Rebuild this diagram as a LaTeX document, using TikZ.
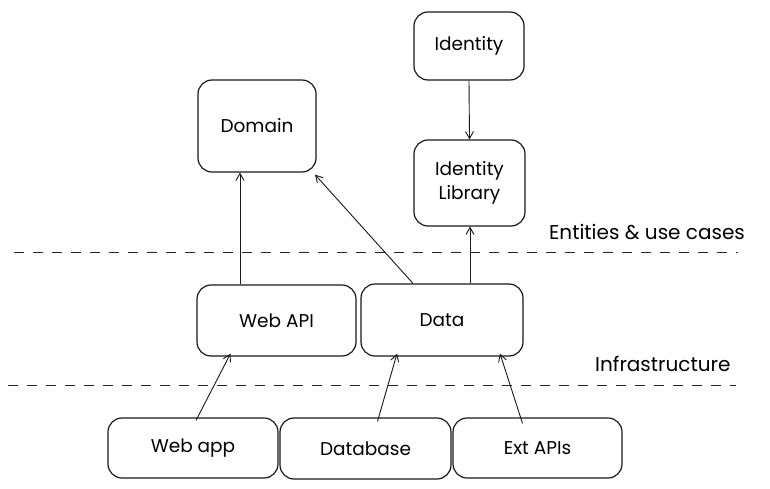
\documentclass[tikz,border=0pt]{standalone}
\usepackage{fontspec}
\setmainfont{Poppins}
\usetikzlibrary{arrows.meta}
\begin{document}
\begin{tikzpicture}[x=1pt,y=-1pt,
  box/.style={draw=black!90, line width=1.2pt, rounded corners=14pt, fill=white, font=\fontsize{18.5}{24}\selectfont, align=center, inner sep=0pt},
  conn/.style={draw=black!90, line width=0.9pt, -{Straight Barb[length=7pt,width=8pt]}},
  sep/.style={draw=black!85, line width=1pt, dash pattern=on 10pt off 9pt},
  lbl/.style={font=\fontsize{20}{24}\selectfont, inner sep=0pt}]
\useasboundingbox (0,0) rectangle (770,489);
\fill[white] (0,0) rectangle (770,489);

\node[box, minimum width=118pt, minimum height=92pt] (domain) at (257,126) {Domain};
\node[box, minimum width=110pt, minimum height=68pt] (identity) at (469,46) {Identity};
\node[box, minimum width=111pt, minimum height=86pt] (idlib) at (469.5,183) {Identity\\Library};
\node[box, minimum width=159pt, minimum height=71pt] (webapi) at (276.5,320.5) {Web API};
\node[box, minimum width=162pt, minimum height=72pt] (data) at (442,320) {Data};
\node[box, minimum width=170pt, minimum height=60pt] (webapp) at (193,448) {Web app};
\node[box, minimum width=171pt, minimum height=61pt] (database) at (365.5,448.5) {Database};
\node[box, minimum width=169pt, minimum height=60pt] (extapis) at (537.5,448) {Ext APIs};

\coordinate (l1a) at (14,252);
\coordinate (l1b) at (738,252);
\coordinate (l2a) at (8,385);
\coordinate (l2b) at (736,385);
\draw[sep] (l1a) -- (l1b);
\draw[sep] (l2a) -- (l2b);

\node[lbl, anchor=west] (ent) at (549,232) {Entities \& use cases};
\node[lbl, anchor=west] (infra) at (595,364) {Infrastructure};

\draw[conn] (webapi.north -| 240,0) -- (domain.south -| 240,0);
\draw[conn] ([xshift=-29pt]data.north) -- ([xshift=58pt,yshift=-2pt]domain.south);
\draw[conn] (data.north -| 470,0) -- (idlib.south -| 470,0);
\draw[conn] (identity.south) -- (idlib.north);
\draw[conn] ([xshift=3pt,yshift=-3pt]webapp.north) -- ([xshift=-46pt,yshift=3pt]webapi.south);
\draw[conn] ([xshift=12pt,yshift=-4pt]database.north) -- ([xshift=-45pt,yshift=3pt]data.south);
\draw[conn] ([xshift=-15pt,yshift=-6pt]extapis.north) -- ([xshift=58pt,yshift=3pt]data.south);
\end{tikzpicture}
\end{document}
